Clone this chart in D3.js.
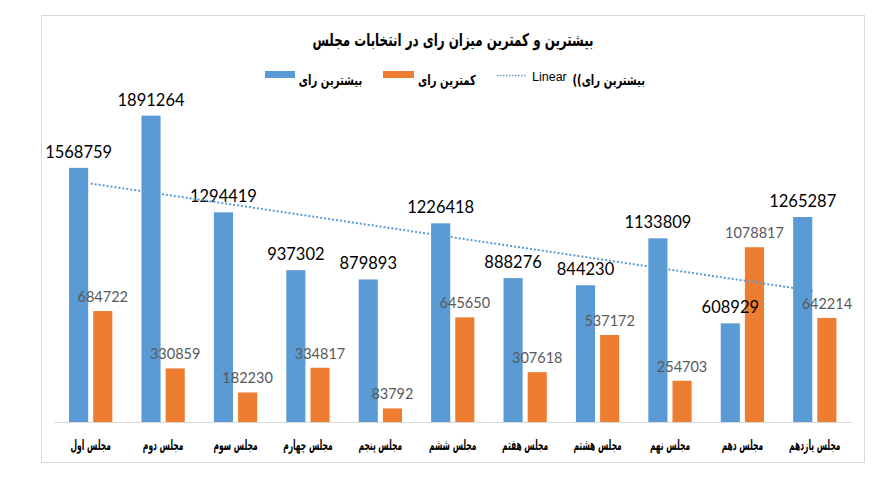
<!DOCTYPE html>
<html>
<head>
<meta charset="utf-8">
<script src="https://cdn.jsdelivr.net/npm/d3@7"></script>
<style>
  html, body { margin: 0; padding: 0; background: #ffffff; }
  svg { display: block; }
</style>
</head>
<body>
<svg id="chart" width="892" height="489"></svg>
<script>
// ---- data ----
const categories = ["مجلس اول", "مجلس دوم", "مجلس سوم", "مجلس چهارم", "مجلس پنجم", "مجلس ششم", "مجلس هفتم", "مجلس هشتم", "مجلس نهم", "مجلس دهم", "مجلس یازدهم"];
const maxVotes = [1568759, 1891264, 1294419, 937302, 879893, 1226418, 888276, 844230, 1133809, 608929, 1265287];
const minVotes = [684722, 330859, 182230, 334817, 83792, 645650, 307618, 537172, 254703, 1078817, 642214];
const seriesNames = ["بیشترین رای", "کمترین رای"];
const titleText = "بیشترین و کمترین میزان رای در انتخابات مجلس";
const yMax = 2000000;

// ---- layout ----
const plot = { left: 54.5, right: 851, top: 98, bottom: 422 };
const blue = "#5b9bd5", orange = "#ed7d31";
const persianFont = "'DejaVu Sans', sans-serif";
const numFont = "Lato, 'Open Sans', sans-serif";

// Persian text drawn with a horizontal squeeze (the original uses a condensed Persian face)
function persianText(parent, x, y, str, size, factor, anchor) {
  return parent.append("text")
    .attr("transform", `translate(${x},${y}) scale(${factor},1)`)
    .attr("text-anchor", anchor || "middle")
    .attr("font-family", persianFont).attr("font-weight", "bold")
    .attr("font-size", size).attr("fill", "#000")
    .text(str);
}

const svg = d3.select("#chart");

// outer border
svg.append("rect")
  .attr("x", 41.5).attr("y", 15.5)
  .attr("width", 823).attr("height", 447)
  .attr("fill", "#fff").attr("stroke", "#d9d9d9").attr("stroke-width", 1);

const x0 = d3.scaleBand().domain(d3.range(categories.length))
  .range([plot.left, plot.right]).paddingInner(0.402).paddingOuter(0.201);
const x1 = d3.scaleBand().domain([0, 1]).range([0, x0.bandwidth()]).paddingInner(5 / 24).paddingOuter(0);
const y = d3.scaleLinear().domain([0, yMax]).range([plot.bottom, plot.top]);

const rows = categories.map((c, i) => ({ i, c, vals: [maxVotes[i], minVotes[i]] }));

// axis (line from d3 axis, labels squeezed individually)
const xAxis = d3.axisBottom(x0).tickSize(0).tickFormat("");
const gx = svg.append("g").attr("transform", `translate(0,${plot.bottom})`).call(xAxis);
gx.select(".domain").attr("stroke", "#d9d9d9").attr("d", `M${plot.left},0.5H${plot.right + 1}`);
gx.selectAll(".tick text").remove();
gx.selectAll(".tick").each(function (i) {
  persianText(d3.select(this), 0, 28, categories[i], 14.5, 0.52);
});

// bars
const groups = svg.append("g").selectAll("g").data(rows).join("g")
  .attr("transform", d => `translate(${x0(d.i)},0)`);
groups.selectAll("rect").data(d => d.vals.map((v, k) => ({ v, k }))).join("rect")
  .attr("x", d => x1(d.k))
  .attr("width", x1.bandwidth())
  .attr("y", d => y(d.v))
  .attr("height", d => y(0) - y(d.v))
  .attr("fill", d => d.k === 0 ? blue : orange);

// linear trendline of first series (least squares, as the spreadsheet does)
const xs = d3.range(1, categories.length + 1);
const mx = d3.mean(xs), my = d3.mean(maxVotes);
const slope = d3.sum(xs, (xv, j) => (xv - mx) * (maxVotes[j] - my)) / d3.sum(xs, xv => (xv - mx) ** 2);
const icpt = my - slope * mx;
const cx = i => x0(i) + x0.bandwidth() / 2;
const first = 0, last = categories.length - 1;
svg.append("line")
  .attr("x1", cx(first)).attr("y1", y(icpt + slope * (first + 1)))
  .attr("x2", cx(last)).attr("y2", y(icpt + slope * (last + 1)))
  .attr("stroke", blue).attr("stroke-width", 2).attr("stroke-dasharray", "2,2");

// value labels
groups.selectAll("text.val").data(d => d.vals.map((v, k) => ({ v, k }))).join("text")
  .attr("class", "val")
  .attr("x", d => x1(d.k) + x1.bandwidth() / 2)
  .attr("y", d => y(d.v) - (d.k === 0 ? 10 : 9))
  .attr("text-anchor", "middle")
  .attr("font-family", numFont)
  .attr("font-size", d => d.k === 0 ? 16.5 : 14.5)
  .attr("fill", d => d.k === 0 ? "#000" : "#595959")
  .text(d => d.v);

// title
persianText(svg, 453, 46, titleText, 17.5, 0.68);

// legend
const lg = svg.append("g");
lg.append("rect").attr("x", 265).attr("y", 71).attr("width", 30).attr("height", 7).attr("fill", blue);
persianText(lg, 330.5, 85, seriesNames[0], 14, 0.72);
lg.append("rect").attr("x", 383).attr("y", 71).attr("width", 31).attr("height", 7).attr("fill", orange);
persianText(lg, 447, 85, seriesNames[1], 14, 0.72);
lg.append("line").attr("x1", 497).attr("x2", 527).attr("y1", 75.5).attr("y2", 75.5)
  .attr("stroke", blue).attr("stroke-width", 1.5).attr("stroke-dasharray", "1.5,1.5");
lg.append("text").attr("x", 532).attr("y", 81)
  .attr("font-family", "'Liberation Sans', Arial, sans-serif").attr("font-size", 12.5).text("Linear");
persianText(lg, 645, 85, "((" + seriesNames[0], 14, 0.72, "end");
</script>
</body>
</html>
